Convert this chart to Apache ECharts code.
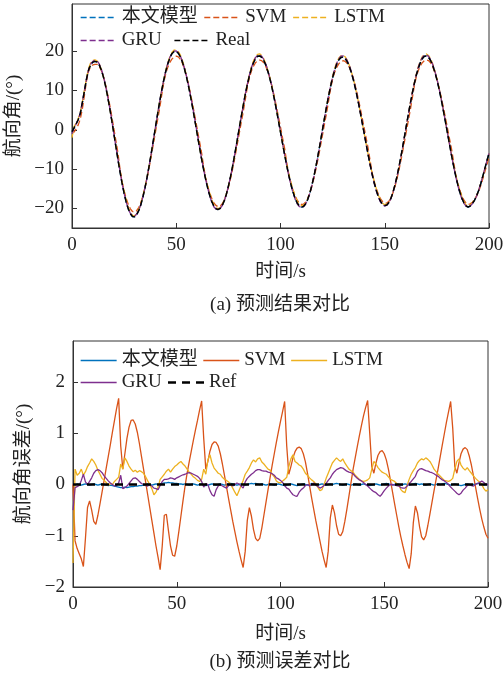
<!DOCTYPE html>
<html>
<head>
<meta charset="utf-8">
<script src="https://cdn.jsdelivr.net/npm/echarts@6/dist/echarts.min.js"></script>
<style>
  html, body { margin: 0; padding: 0; background: #fff; }
  #chart { width: 503px; height: 677px; }
</style>
</head>
<body>
<div id="chart"></div>
<script>
    // 时间轴（每秒一个采样点）
    const time = Array.from({length: 201}, (_, i) => i);

    // 真实航向角 Real (°)
    const realHeading = [
        -0.5, 0.5, 1.5, 2.6, 4.2, 7.0, 10.0, 13.0, 15.3, 16.6, 17.2, 17.4,
        17.26, 16.57, 15.33, 13.58, 11.35, 8.73, 5.81, 2.63, -0.71, -4.09, -7.43, -10.61, -13.53, -16.15, -18.38, -20.13, -21.37, -22.06, -22.15,
        -21.62, -20.59, -19.09, -17.14, -14.80, -12.12, -9.17, -6.02, -2.76, 0.56, 3.82, 6.97, 9.92, 12.60, 14.94, 16.89, 18.39, 19.42, 19.93,
        19.94, 19.47, 18.54, 17.17, 15.40, 13.25, 10.80, 8.09, 5.20, 2.17, -0.92, -3.99, -6.97, -9.77, -12.36, -14.67, -16.63, -18.21, -19.36, -20.06, -20.3,
        -20.05, -19.31, -18.11, -16.47, -14.40, -12.02, -9.33, -6.43, -3.40, -0.27, 2.81, 5.81, 8.67, 11.26, 13.55, 15.50, 17.01, 18.09, 18.68, 18.79,
        18.42, 17.62, 16.39, 14.76, 12.80, 10.51, 7.96, 5.21, 2.33, -0.58, -3.53, -6.40, -9.13, -11.66, -13.89, -15.84, -17.43, -18.62, -19.38, -19.69,
        -19.54, -18.90, -17.80, -16.23, -14.27, -11.96, -9.33, -6.50, -3.52, -0.43, 2.62, 5.59, 8.40, 11.00, 13.28, 15.20, 16.71, 17.79, 18.38, 18.48,
        18.13, 17.34, 16.13, 14.53, 12.61, 10.36, 7.86, 5.16, 2.33, -0.53, -3.42, -6.24, -8.92, -11.40, -13.60, -15.51, -17.07, -18.24, -18.98, -19.29,
        -19.14, -18.51, -17.40, -15.83, -13.88, -11.58, -8.96, -6.14, -3.16, -0.08, 2.96, 5.92, 8.72, 11.32, 13.59, 15.51, 17.01, 18.09, 18.68, 18.78,
        18.42, 17.62, 16.39, 14.76, 12.80, 10.51, 7.96, 5.21, 2.33, -0.58, -3.53, -6.40, -9.13, -11.66, -13.89, -15.84, -17.43, -18.62, -19.38, -19.69,
        -19.4, -18.8, -18.0, -16.9, -15.5, -13.8, -11.9, -9.9, -7.9, -6.0
    ];

    // 各模型预测误差 (°) = 预测值 - 真实值
    const errModel = [
        0.0, -0.01, 0.01, 0.0, -0.01, 0.0, 0.01, 0.0, -0.01, 0.0,
        0.01, 0.0, -0.01, 0.0, 0.01, 0.0, -0.01, -0.02, -0.01, -0.02,
        -0.03, -0.04, -0.05, -0.06, -0.06, -0.05, -0.06, -0.05, -0.04, -0.04,
        -0.03, -0.03, -0.02, -0.02, -0.01, 0.0, 0.01, 0.0, -0.01, 0.0,
        0.01, 0.0, 0.01, 0.02, 0.03, 0.03, 0.04, 0.03, 0.03, 0.02,
        0.02, 0.01, 0.01, 0.0, 0.01, 0.0, -0.01, 0.0, 0.01, 0.0,
        -0.01, 0.0, 0.01, -0.01, -0.02, -0.01, 0.0, 0.01, 0.0, -0.01,
        0.0, 0.01, 0.0, -0.01, 0.0, 0.01, 0.02, 0.01, 0.0, -0.01,
        0.0, 0.01, 0.0, -0.01, 0.0, 0.01, 0.02, 0.01, 0.02, 0.01,
        0.0, 0.01, 0.0, -0.01, 0.0, 0.01, 0.0, -0.01, 0.0, 0.01,
        0.0, -0.01, -0.02, -0.01, 0.0, 0.01, 0.0, -0.01, -0.02, -0.01,
        0.0, 0.01, 0.0, -0.01, 0.0, 0.02, 0.01, 0.0, -0.01, 0.0,
        0.01, 0.0, -0.01, 0.0, 0.01, 0.0, 0.01, 0.02, 0.01, 0.0,
        -0.01, 0.0, 0.01, 0.0, -0.01, 0.0, 0.01, 0.0, -0.01, 0.0,
        0.01, 0.0, -0.01, -0.02, -0.01, 0.0, 0.01, 0.0, -0.01, 0.0,
        0.01, 0.02, 0.01, 0.0, -0.01, 0.0, 0.01, 0.0, -0.01, 0.0,
        0.01, 0.0, -0.01, 0.0, 0.01, 0.02, 0.01, 0.0, 0.01, 0.0,
        -0.01, 0.0, 0.01, 0.0, -0.01, 0.0, 0.01, 0.0, 0.01, 0.02,
        0.01, 0.0, -0.01, 0.0, 0.01, 0.0, -0.01, -0.02, -0.01, 0.0,
        0.01, 0.0, -0.01, 0.0, 0.01, 0.02, 0.01, 0.0, -0.01, 0.0,
        0.0
    ];
    const errSVM = [
        0.0, -1.1, -1.25, -1.35, -1.45, -1.6, -1.05, -0.45, -0.32, -0.5, -0.72, -0.78,
        -0.6, -0.38, -0.15, 0.08, 0.32, 0.55, 0.78, 1.02, 1.25, 1.48, 1.68,
        0.75, 0.3, 0.6, 0.9, 1.12, 1.25, 1.26, 1.18, 1.02, 0.8, 0.55, 0.3, 0.05, -0.2, -0.45, -0.7, -0.95, -1.2, -1.42, -1.66,
        -1.2, -0.6, -0.58, -0.9, -1.2, -1.38, -1.4, -1.2, -0.92, -0.62, -0.32, -0.03, 0.22, 0.44, 0.65, 0.86, 1.06, 1.25, 1.45, 1.63,
        0.9, 0.3, 0.45, 0.65, 0.78, 0.83, 0.82, 0.75, 0.6, 0.4, 0.18, -0.05, -0.28, -0.5, -0.72, -0.92, -1.12, -1.3, -1.47, -1.62,
        -1.3, -0.7, -0.45, -0.62, -0.88, -1.05, -1.1, -1.05, -0.85, -0.6, -0.35, -0.1, 0.14, 0.38, 0.6, 0.82, 1.03, 1.23, 1.42, 1.62,
        0.75, 0.2, 0.35, 0.52, 0.64, 0.71, 0.73, 0.7, 0.6, 0.44, 0.22, -0.02, -0.26, -0.48, -0.7, -0.9, -1.1, -1.3, -1.47, -1.62,
        -1.3, -0.65, -0.4, -0.55, -0.8, -0.97, -1.0, -0.92, -0.72, -0.48, -0.22, 0.04, 0.3, 0.52, 0.74, 0.95, 1.15, 1.34, 1.5, 1.64,
        1.0, 0.35, 0.22, 0.42, 0.57, 0.64, 0.66, 0.6, 0.48, 0.3, 0.08, -0.15, -0.38, -0.6, -0.82, -1.02, -1.2, -1.37, -1.52, -1.64,
        -1.35, -0.75, -0.42, -0.55, -0.82, -1.02, -1.08, -1.0, -0.8, -0.58, -0.35, -0.12, 0.1, 0.32, 0.55, 0.78, 1.0, 1.22, 1.42, 1.62,
        1.1, 0.35, 0.22, 0.42, 0.6, 0.69, 0.72, 0.68, 0.55, 0.38, 0.17, -0.05, -0.27, -0.48, -0.67, -0.83, -0.97, -1.05
    ];
    const errLSTM = [
        -1.53, 0.3, 0.18, 0.22, 0.3, 0.18, 0.25, 0.35, 0.42, 0.5,
        0.45, 0.38, 0.28, 0.2, 0.12, 0.08, 0.04, -0.02, 0.02, 0.0,
        0.06, 0.1, 0.14, 0.4, 0.3, 0.52, 0.45, 0.36, 0.3, 0.25,
        0.28, 0.24, 0.27, 0.25, 0.22, 0.15, 0.07, 0.0, -0.08, -0.2,
        -0.15, -0.05, 0.1, 0.15, 0.2, 0.26, 0.3, 0.24, 0.3, 0.35,
        0.38, 0.42, 0.45, 0.4, 0.36, 0.3, 0.24, 0.2, 0.15, 0.12,
        0.08, 0.06, 0.1, 0.3, 0.2, 0.48, 0.58, 0.42, 0.32, 0.27,
        0.22, 0.2, 0.14, 0.1, 0.08, 0.05, 0.0, -0.07, -0.15, -0.22,
        -0.12, -0.02, 0.08, 0.2, 0.26, 0.33, 0.42, 0.48, 0.44, 0.5,
        0.52, 0.44, 0.4, 0.35, 0.3, 0.28, 0.2, 0.15, 0.07, 0.04,
        0.03, 0.07, 0.1, 0.14, 0.35, 0.5, 0.58, 0.45, 0.42, 0.38,
        0.36, 0.3, 0.22, 0.18, 0.13, 0.09, 0.06, 0.01, -0.05, -0.12,
        -0.1, 0.0, 0.12, 0.22, 0.32, 0.42, 0.47, 0.52, 0.48, 0.45,
        0.5, 0.42, 0.36, 0.3, 0.27, 0.24, 0.18, 0.14, 0.1, 0.07,
        0.06, 0.07, 0.09, 0.13, 0.3, 0.45, 0.4, 0.33, 0.28, 0.24,
        0.22, 0.2, 0.15, 0.1, 0.08, 0.06, 0.02, 0.0, -0.1, -0.14,
        -0.16, -0.02, 0.1, 0.2, 0.27, 0.33, 0.42, 0.47, 0.5, 0.48,
        0.52, 0.49, 0.45, 0.38, 0.3, 0.25, 0.2, 0.16, 0.12, 0.08,
        0.07, 0.06, 0.08, 0.12, 0.3, 0.45, 0.5, 0.38, 0.32, 0.28,
        0.33, 0.27, 0.22, 0.17, 0.12, 0.08, 0.05, 0.0, -0.08, -0.13,
        -0.1
    ];
    const errGRU = [
        -0.5, -0.06, -0.04, -0.02, 0.08, 0.2, 0.05, 0.0, 0.06, 0.13,
        0.22, 0.27, 0.29, 0.27, 0.23, 0.17, 0.12, 0.07, 0.03, 0.0,
        -0.03, -0.02, 0.03, 0.18, -0.08, -0.06, -0.03, 0.02, 0.07, 0.12,
        0.13, 0.1, 0.06, 0.02, 0.0, -0.02, -0.03, 0.0, -0.03, -0.07,
        -0.08, -0.1, -0.02, 0.06, 0.1, 0.1, 0.11, 0.13, 0.12, 0.1,
        0.13, 0.15, 0.17, 0.19, 0.2, 0.22, 0.23, 0.22, 0.2, 0.18,
        0.16, 0.12, 0.06, -0.05, 0.02, 0.0, -0.12, -0.2, -0.23, -0.1,
        -0.03, 0.0, -0.03, -0.05, -0.07, -0.02, 0.0, -0.03, 0.0, 0.03,
        0.01, -0.03, -0.07, 0.05, 0.12, 0.16, 0.2, 0.23, 0.27, 0.29,
        0.29, 0.27, 0.26, 0.26, 0.24, 0.23, 0.21, 0.18, 0.13, 0.11,
        0.08, 0.04, -0.02, -0.07, -0.09, -0.15, -0.2, -0.22, -0.23, -0.15,
        -0.1, -0.07, -0.02, 0.0, -0.03, 0.0, 0.03, -0.01, -0.04, -0.07,
        -0.05, -0.02, 0.02, 0.08, 0.13, 0.2, 0.25, 0.29, 0.31, 0.33,
        0.32, 0.29, 0.26, 0.24, 0.23, 0.21, 0.16, 0.12, 0.09, 0.07,
        0.04, 0.0, -0.03, -0.07, -0.11, -0.14, -0.16, -0.2, -0.23, -0.18,
        -0.12, -0.07, -0.03, 0.0, 0.0, -0.01, -0.02, -0.03, -0.06, -0.07,
        -0.07, -0.03, 0.02, 0.06, 0.11, 0.16, 0.26, 0.3, 0.31, 0.29,
        0.27, 0.26, 0.24, 0.23, 0.21, 0.18, 0.16, 0.12, 0.09, 0.07,
        0.04, 0.0, -0.05, -0.09, -0.13, -0.17, -0.2, -0.17, -0.11, -0.07,
        -0.02, 0.0, -0.02, -0.03, 0.0, 0.02, 0.04, 0.07, 0.04, 0.0,
        0.0
    ];
    // 参考线 Ref
    const refTime = [0, 200];
    const refLevel = [0, 0];

    // 坐标轴刻度
    const yTicksTop = [-20, -10, 0, 10, 20];
    const yTicksBottom = [-2, -1, 0, 1, 2];

    const names = ['本文模型', 'SVM', 'LSTM', 'GRU'];
    const colors = ['#0072BD', '#D95319', '#EDB120', '#7E2F8E'];
    const errors = [errModel, errSVM, errLSTM, errGRU];

    const FONT = "'Liberation Serif', 'Times New Roman', 'Noto Sans CJK SC', serif";
    const AXIS_COLOR = '#333';
    const TEXT_COLOR = '#222';

    let chart = echarts.init(document.getElementById('chart'), null, {renderer: 'canvas'});

    function pairs(xs, ys){
        return xs.map((x, i) => [x, ys[i]]);
    }

    // 负号用 "−"
    function minus(v){
        return v < 0 ? '\u2212' + Math.abs(v) : String(v);
    }

    function xAxisOf(gridIndex, gap, margin){
        return {
            type: 'value', gridIndex: gridIndex, min: 0, max: 200, interval: 50,
            name: '时间/s', nameLocation: 'middle', nameGap: gap,
            nameTextStyle: {fontFamily: FONT, fontSize: 19, color: TEXT_COLOR},
            axisLine: {show: true, onZero: false, lineStyle: {color: AXIS_COLOR, width: 1}},
            axisTick: {show: true, inside: true, length: 5, lineStyle: {color: AXIS_COLOR}},
            axisLabel: {fontFamily: FONT, fontSize: 19, color: TEXT_COLOR, margin: margin},
            splitLine: {show: false}
        };
    }

    function yAxisOf(gridIndex, name, gap, min, max, ticks){
        return {
            type: 'value', gridIndex: gridIndex, min: min, max: max,
            name: name, nameLocation: 'middle', nameGap: gap, nameRotate: 90,
            nameTextStyle: {fontFamily: FONT, fontSize: 19, color: TEXT_COLOR},
            axisLine: {show: true, onZero: false, lineStyle: {color: AXIS_COLOR, width: 1}},
            axisTick: {show: true, inside: true, length: 5, customValues: ticks, lineStyle: {color: AXIS_COLOR}},
            axisLabel: {fontFamily: FONT, fontSize: 19, color: TEXT_COLOR, margin: 8, customValues: ticks, formatter: minus},
            splitLine: {show: false}
        };
    }

    function legendOf(items, top, gap, dashed){
        return {
            top: top, left: 80, padding: 0, itemGap: gap,
            itemWidth: 36, itemHeight: 14,
            textStyle: {fontFamily: FONT, fontSize: 19, color: TEXT_COLOR},
            itemStyle: {opacity: 0},
            data: items.map(n => ({
                name: n,
                itemStyle: {opacity: 0},
                lineStyle: n === 'Ref'
                    ? {type: [8, 6], width: 2.5}
                    : {type: dashed ? [6, 3] : 'solid', width: 1.3}
            }))
        };
    }

    let series = [];
    // (a) 预测结果：预测值 = 真实值 + 误差
    names.forEach((n, k) => {
        series.push({
            name: n, type: 'line', xAxisIndex: 0, yAxisIndex: 0,
            symbol: 'none', silent: true,
            lineStyle: {color: colors[k], width: 1.3, type: [6, 3]},
            itemStyle: {color: colors[k]},
            data: pairs(time, realHeading.map((v, i) => v + errors[k][i]))
        });
    });
    series.push({
        name: 'Real', type: 'line', xAxisIndex: 0, yAxisIndex: 0,
        symbol: 'none', silent: true,
        lineStyle: {color: '#000', width: 1.5, type: [6, 3]},
        itemStyle: {color: '#000'},
        data: pairs(time, realHeading)
    });
    // (b) 预测误差
    names.forEach((n, k) => {
        series.push({
            name: n, type: 'line', xAxisIndex: 1, yAxisIndex: 1,
            symbol: 'none', silent: true,
            lineStyle: {color: colors[k], width: 1.3, type: 'solid'},
            itemStyle: {color: colors[k]},
            data: pairs(time, errors[k])
        });
    });
    series.push({
        name: 'Ref', type: 'line', xAxisIndex: 1, yAxisIndex: 1,
        symbol: 'none', silent: true,
        lineStyle: {color: '#000', width: 2.5, type: [8, 6]},
        itemStyle: {color: '#000'},
        data: pairs(refTime, refLevel)
    });

    let option = {
        animation: false,
        backgroundColor: '#fff',
        title: [
            {text: '(a) 预测结果对比', left: 280, top: 296, textAlign: 'center', padding: 0,
             textStyle: {fontFamily: FONT, fontSize: 19, fontWeight: 'normal', color: TEXT_COLOR}},
            {text: '(b) 预测误差对比', left: 280, top: 653, textAlign: 'center', padding: 0,
             textStyle: {fontFamily: FONT, fontSize: 19, fontWeight: 'normal', color: TEXT_COLOR}}
        ],
        grid: [
            {left: 72, right: 14, top: 4, height: 224, show: true, borderColor: AXIS_COLOR, borderWidth: 1,
             backgroundColor: 'transparent', outerBoundsMode: 'none', containLabel: false},
            {left: 73, right: 15, top: 341, height: 246, show: true, borderColor: AXIS_COLOR, borderWidth: 1,
             backgroundColor: 'transparent', outerBoundsMode: 'none', containLabel: false}
        ],
        xAxis: [xAxisOf(0, 35, 8), xAxisOf(1, 38, 8)],
        yAxis: [
            yAxisOf(0, '航向角/(°)', 44, -25, 32, yTicksTop),
            yAxisOf(1, '航向角误差/(°)', 34, -2, 2.8, yTicksBottom)
        ],
        legend: [
            legendOf(['本文模型', 'SVM', 'LSTM'], 8, 6, true),
            legendOf(['GRU', 'Real'], 31, 12, true),
            legendOf(['本文模型', 'SVM', 'LSTM'], 351, 5, false),
            legendOf(['GRU', 'Ref'], 373, 5, false)
        ],
        series: series
    };

    chart.setOption(option);
</script>
</body>
</html>
